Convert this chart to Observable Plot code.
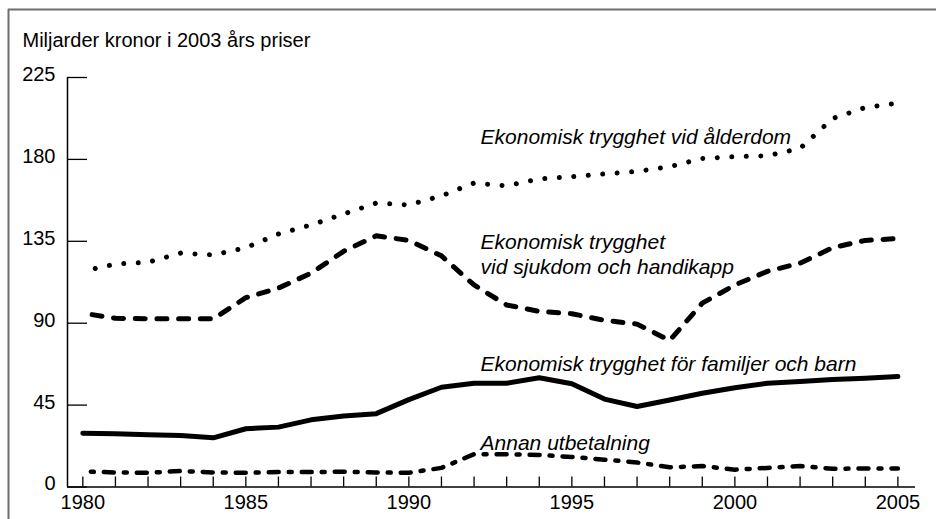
<!DOCTYPE html>
<html>
<head>
<meta charset="utf-8">
<script src="https://cdn.jsdelivr.net/npm/d3@7"></script>
<script src="https://cdn.jsdelivr.net/npm/@observablehq/plot@0.6"></script>
<style>
  html, body { margin: 0; padding: 0; background: #fff; overflow: hidden; }
</style>
</head>
<body>
<div id="chart"></div>
<script>
// ---- data ----
const years = [1980,1981,1982,1983,1984,1985,1986,1987,1988,1989,1990,1991,1992,
               1993,1994,1995,1996,1997,1998,1999,2000,2001,2002,2003,2004,2005];
const alderdom = [118.5,122.5,123.5,128.5,127.5,131.5,139,144,150,156,155,160,167,
                  165.5,169.3,170.5,172,173.4,176,180.5,181.5,182,186,202.5,208.5,211];
const sjukdom = [95.5,92.7,92.4,92.4,92.4,104,109.3,117.5,129.5,138,135.5,127,111,
                 100,96.5,95.2,91.6,89.5,80.5,101,111,118.5,123,131.5,135.5,136.5];
const familjer = [29.6,29.2,28.7,28.3,27,32,32.9,36.9,39,40.3,48,54.8,57,
                  57,60,56.7,48.3,44.2,47.8,51.5,54.5,57,58,59,59.8,60.7];
const annan = [8.5,8,7.8,8.8,8,7.8,8.2,8.2,8.4,8,7.8,10.5,18,
               18,17.6,16.5,15,13.5,10.8,11.5,9.5,10.5,11.5,10,10.2,10.2];
const seriesLabels = [
  "Ekonomisk trygghet vid ålderdom",
  "Ekonomisk trygghet",
  "vid sjukdom och handikapp",
  "Ekonomisk trygghet för familjer och barn",
  "Annan utbetalning"
];
const yTicks = [0,45,90,135,180,225];
const xLabelTicks = [1980,1985,1990,1995,2000,2005];
const yTitle = "Miljarder kronor i 2003 års priser";

const rows = vals => years.map((yr, i) => ({year: yr, value: vals[i]}));
const xMin = 1979.53, xMax = 2005.54;

const labelStyle = {textAnchor: "start", lineAnchor: "bottom", fontStyle: "italic", fontSize: 21, text: d => d};

const chart = Plot.plot({
  width: 936,
  height: 519,
  marginLeft: 67,
  marginRight: 21,
  marginTop: 77,
  marginBottom: 32.5,
  style: {fontFamily: "'Liberation Sans', Arial, Helvetica, sans-serif", fontSize: "20px", background: "#fff", color: "#000"},
  x: {domain: [xMin, xMax]},
  y: {domain: [0, 225]},
  marks: [
    // outer box (only left and top edges are visible in the reference)
    Plot.ruleX([xMin], {dx: -59, insetTop: -68, insetBottom: -60, stroke: "#6e6e6e", strokeWidth: 2}),
    Plot.ruleY([225], {dy: -68, insetLeft: -59, insetRight: -80, stroke: "#6e6e6e", strokeWidth: 2}),
    Plot.text([yTitle], {frameAnchor: "top-left", dx: -45, dy: -30.5, lineAnchor: "bottom", textAnchor: "start", text: d => d, fontSize: 20}),
    Plot.axisY({ticks: yTicks, tickSize: -20, tickFormat: () => "", label: null, strokeWidth: 1.3}),
    Plot.axisY({ticks: yTicks, tickSize: 0, tickPadding: 12, dy: -3, label: null, fontSize: 20}),
    Plot.axisX({ticks: years, tickSize: -10, tickFormat: () => "", label: null, strokeWidth: 1.3}),
    Plot.axisX({ticks: xLabelTicks, tickSize: 0, tickPadding: 8, tickFormat: d => String(d), label: null, fontSize: 20}),
    Plot.ruleY([0], {strokeWidth: 1.5}),
    Plot.ruleX([xMin], {strokeWidth: 1.5}),
    Plot.line(rows(alderdom), {x: "year", y: "value", stroke: "#000", strokeWidth: 5, strokeLinecap: "round", strokeDasharray: "0.01,14.5", strokeDashoffset: 1.8}),
    Plot.line(rows(sjukdom), {x: "year", y: "value", stroke: "#000", strokeWidth: 5, strokeDasharray: "10,11.7", strokeDashoffset: 12.3}),
    Plot.line(rows(familjer), {x: "year", y: "value", stroke: "#000", strokeWidth: 5, strokeLinejoin: "round"}),
    Plot.line(rows(annan), {x: "year", y: "value", stroke: "#000", strokeWidth: 4.5, strokeDasharray: "10,10,3,10", strokeDashoffset: 12}),
    Plot.text([seriesLabels[0]], {x: 1992.2, y: 188.6, ...labelStyle}),
    Plot.text([seriesLabels[1]], {x: 1992.2, y: 130.9, ...labelStyle}),
    Plot.text([seriesLabels[2]], {x: 1992.2, y: 117.1, ...labelStyle}),
    Plot.text([seriesLabels[3]], {x: 1992.2, y: 63.6, ...labelStyle}),
    Plot.text([seriesLabels[4]], {x: 1992.2, y: 20.4, ...labelStyle})
  ]
});
document.getElementById("chart").append(chart);
</script>
</body>
</html>
